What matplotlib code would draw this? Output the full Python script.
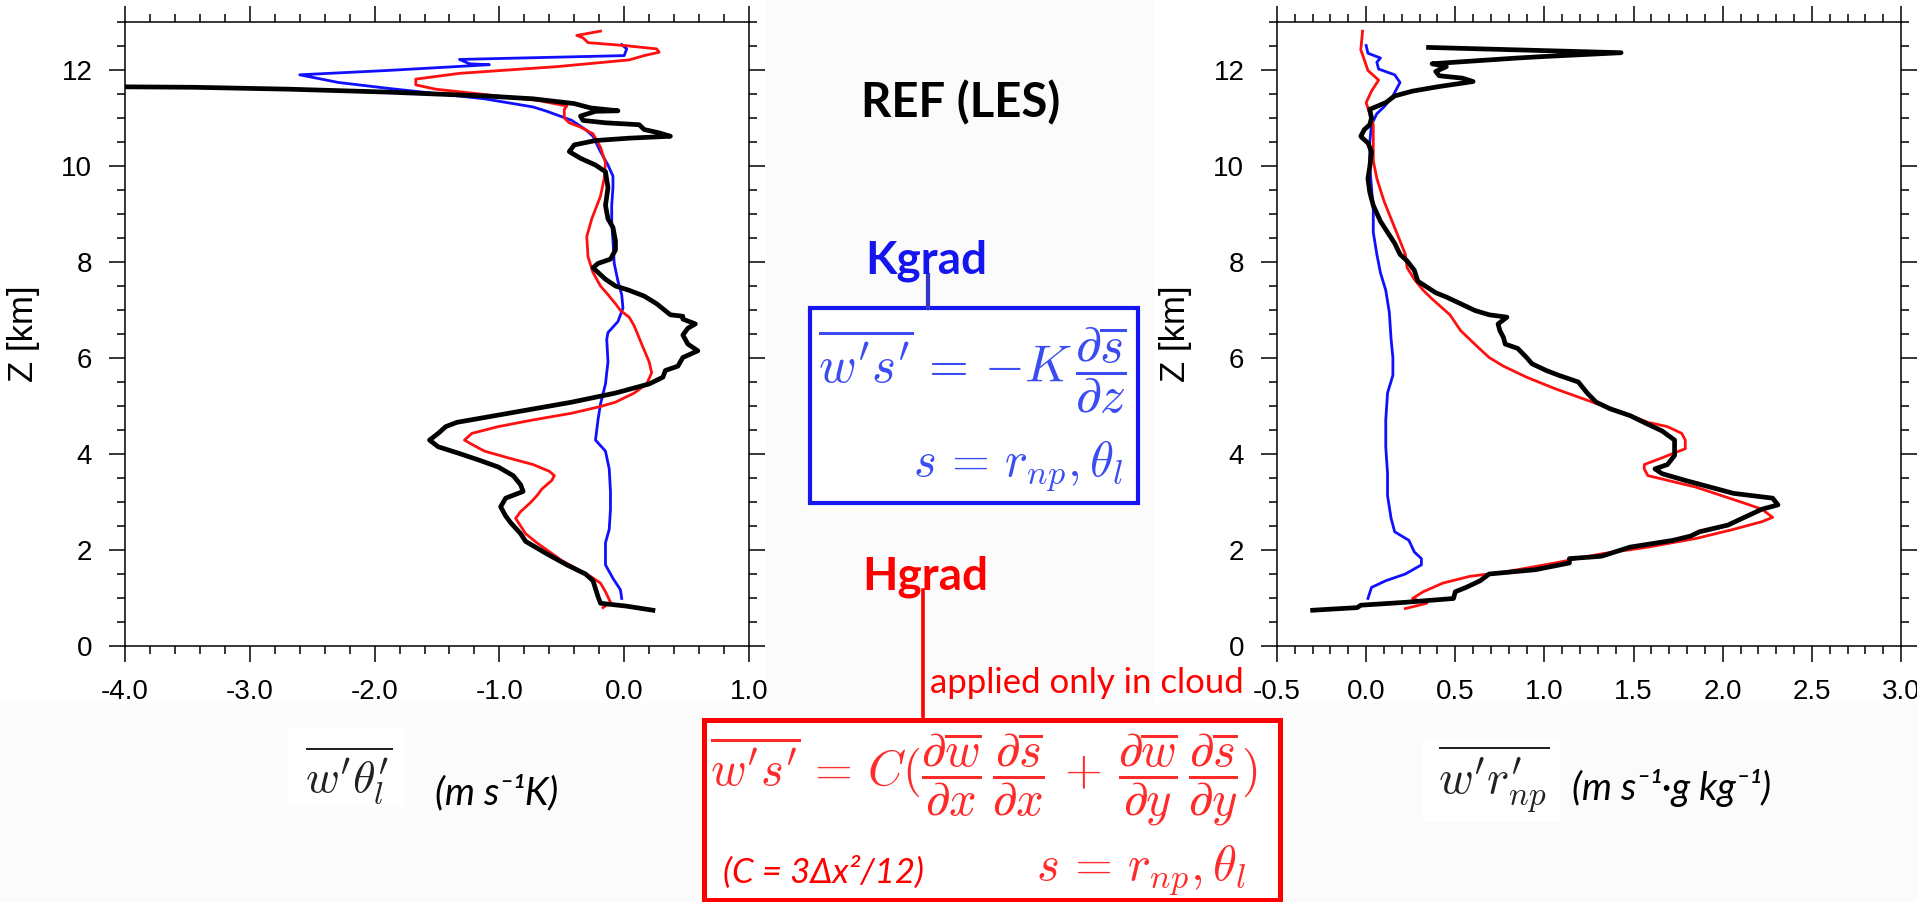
import numpy as np
import matplotlib.pyplot as plt
from matplotlib.ticker import MultipleLocator, FormatStrFormatter
from matplotlib.patches import Rectangle
from matplotlib.lines import Line2D

plt.rcParams["mathtext.fontset"] = "cm"
plt.rcParams["axes.unicode_minus"] = False
plt.rcParams["font.family"] = ["Liberation Sans", "DejaVu Sans"]

# ---- theta_l flux profiles (m s-1 K) vs height (km)
thl_les_z = [0.745, 0.83, 0.89, 1.03, 1.36, 1.5, 1.69, 1.92, 2.18, 2.34, 2.57, 2.71, 2.9, 3.08,
             3.22, 3.36, 3.55, 3.73, 3.87, 4.01, 4.15, 4.29, 4.43, 4.57, 4.66, 4.76, 4.92, 5.08,
             5.27, 5.46, 5.6, 5.74, 5.83, 6.01, 6.15, 6.29, 6.48, 6.62, 6.71, 6.81, 6.87, 6.9,
             7.13, 7.29, 7.41, 7.5, 7.64, 7.88, 7.97, 8.06, 8.25, 8.44, 8.72, 8.9, 9.18, 9.55,
             9.88, 10.02, 10.16, 10.3, 10.44, 10.53, 10.58, 10.62, 10.69, 10.76, 10.86, 10.9,
             10.95, 11.04, 11.14, 11.15, 11.21, 11.3, 11.4, 11.46, 11.54, 11.6, 11.64, 11.65]
thl_les = [0.23, 0.02, -0.19, -0.21, -0.25, -0.31, -0.46, -0.62, -0.79, -0.83, -0.91, -0.95, -0.99,
           -0.95, -0.81, -0.83, -0.89, -1.01, -1.16, -1.32, -1.49, -1.56, -1.49, -1.43, -1.34,
           -1.12, -0.77, -0.42, -0.07, 0.2, 0.31, 0.33, 0.43, 0.47, 0.59, 0.51, 0.47, 0.51, 0.57,
           0.47, 0.47, 0.37, 0.26, 0.16, 0.04, -0.07, -0.15, -0.25, -0.21, -0.11, -0.07, -0.07,
           -0.09, -0.13, -0.15, -0.13, -0.15, -0.23, -0.35, -0.44, -0.4, -0.23, 0.04, 0.37, 0.28,
           0.16, 0.12, -0.15, -0.33, -0.35, -0.23, -0.05, -0.27, -0.4, -0.73, -1.12, -1.9, -2.68,
           -3.45, -4.05]

thl_hgrad_z = [0.8, 0.91, 1.13, 1.31, 1.45, 1.78, 2.15, 2.34, 2.66, 2.8, 2.99, 3.13, 3.27, 3.45,
               3.55, 3.64, 3.78, 3.92, 4.06, 4.2, 4.29, 4.43, 4.57, 4.71, 4.85, 4.99, 5.08, 5.27,
               5.46, 5.69, 5.92, 6.29, 6.67, 6.85, 6.99, 7.13, 7.32, 7.5, 7.78, 8.11, 8.53, 8.9,
               9.37, 9.74, 10.07, 10.39, 10.67, 10.81, 10.9, 11.0, 11.18, 11.25, 11.37, 11.49,
               11.6, 11.69, 11.81, 11.93, 12.07, 12.21, 12.3, 12.37, 12.44, 12.51, 12.57, 12.67,
               12.72, 12.81]
thl_hgrad = [-0.17, -0.11, -0.15, -0.19, -0.27, -0.5, -0.7, -0.79, -0.87, -0.83, -0.75, -0.7, -0.66,
             -0.58, -0.56, -0.6, -0.73, -0.93, -1.12, -1.22, -1.28, -1.22, -1.01, -0.73, -0.42,
             -0.19, -0.07, 0.08, 0.18, 0.22, 0.2, 0.14, 0.08, 0.04, -0.03, -0.07, -0.13, -0.19,
             -0.25, -0.29, -0.3, -0.26, -0.19, -0.16, -0.15, -0.19, -0.25, -0.35, -0.44, -0.48,
             -0.48, -0.46, -0.7, -1.12, -1.51, -1.67, -1.67, -1.32, -0.54, 0.04, 0.16, 0.28, 0.26,
             0.0, -0.29, -0.33, -0.38, -0.19]

thl_kgrad_z = [0.99, 1.17, 1.41, 1.69, 2.15, 2.43, 2.85, 3.22, 3.69, 4.06, 4.29, 4.71, 5.04, 5.46,
               5.92, 6.39, 6.53, 6.76, 7.04, 7.32, 7.6, 7.97, 8.44, 8.81, 9.18, 9.55, 9.79, 10.02,
               10.3, 10.62, 10.76, 10.95, 11.14, 11.23, 11.4, 11.51, 11.62, 11.74, 11.9, 11.99,
               12.11, 12.13, 12.22, 12.3, 12.44, 12.53]
thl_kgrad = [-0.02, -0.03, -0.09, -0.15, -0.15, -0.12, -0.11, -0.11, -0.12, -0.15, -0.23, -0.21,
             -0.19, -0.15, -0.13, -0.14, -0.13, -0.05, -0.01, -0.02, -0.05, -0.08, -0.09, -0.1,
             -0.1, -0.09, -0.09, -0.13, -0.19, -0.25, -0.31, -0.42, -0.62, -0.73, -1.12, -1.51,
             -1.9, -2.29, -2.6, -1.9, -1.08, -1.24, -1.32, 0.0, 0.02, -0.02]

# ---- r_np flux profiles (m s-1 g kg-1) vs height (km)
rnp_les_z = [0.745, 0.8, 0.85, 0.91, 0.99, 1.13, 1.22, 1.36, 1.5, 1.59, 1.73, 1.82, 1.87, 2.06,
             2.2, 2.29, 2.38, 2.52, 2.66, 2.85, 2.94, 3.08, 3.18, 3.31, 3.45, 3.59, 3.69, 3.78,
             3.97, 4.29, 4.48, 4.62, 4.8, 4.94, 5.08, 5.27, 5.5, 5.64, 5.74, 5.88, 6.01, 6.2,
             6.29, 6.43, 6.57, 6.71, 6.85, 6.9, 6.99, 7.13, 7.27, 7.36, 7.6, 7.83, 8.02, 8.16,
             8.39, 8.62, 8.85, 9.18, 9.46, 9.74, 9.97, 10.3, 10.48, 10.58, 10.62, 10.76, 10.86,
             11.0, 11.18, 11.32, 11.46, 11.56, 11.65, 11.76, 11.83, 11.88, 11.97, 12.07, 12.13,
             12.25, 12.28, 12.36, 12.47]
rnp_les = [-0.3, -0.05, -0.03, 0.22, 0.49, 0.5, 0.56, 0.64, 0.69, 0.95, 1.14, 1.14, 1.32, 1.48,
           1.72, 1.82, 1.87, 2.03, 2.11, 2.22, 2.31, 2.28, 2.06, 1.93, 1.79, 1.66, 1.62, 1.69,
           1.73, 1.73, 1.66, 1.58, 1.48, 1.37, 1.29, 1.24, 1.19, 1.08, 1.01, 0.93, 0.9, 0.85,
           0.78, 0.77, 0.75, 0.74, 0.79, 0.69, 0.61, 0.53, 0.45, 0.39, 0.29, 0.27, 0.23, 0.19,
           0.16, 0.12, 0.08, 0.04, 0.02, 0.01, 0.02, 0.03, 0.01, -0.02, -0.03, -0.01, 0.02, 0.03,
           0.02, 0.11, 0.16, 0.26, 0.4, 0.6, 0.54, 0.41, 0.39, 0.45, 0.37, 0.85, 0.99, 1.43, 0.35]

rnp_hgrad_z = [0.78, 0.89, 0.99, 1.13, 1.31, 1.45, 1.55, 1.73, 1.92, 2.06, 2.24, 2.43, 2.59,
               2.68, 2.85, 2.99, 3.31, 3.55, 3.69, 3.78, 3.92, 4.01, 4.11, 4.29, 4.43, 4.57,
               4.66, 4.85, 5.08, 5.36, 5.6, 5.83, 6.01, 6.25, 6.57, 6.9, 7.23, 7.41, 7.64, 7.88,
               8.16, 8.53, 8.9, 9.27, 9.74, 10.11, 10.48, 10.86, 11.09, 11.32, 11.56, 11.79,
               11.99, 12.21, 12.42, 12.81]
rnp_hgrad = [0.22, 0.34, 0.26, 0.32, 0.43, 0.58, 0.79, 1.06, 1.32, 1.58, 1.85, 2.06, 2.22, 2.28,
             2.22, 2.11, 1.85, 1.58, 1.56, 1.56, 1.66, 1.72, 1.79, 1.79, 1.77, 1.69, 1.58, 1.45,
             1.27, 1.06, 0.9, 0.77, 0.69, 0.62, 0.53, 0.47, 0.37, 0.32, 0.27, 0.23, 0.22, 0.18,
             0.14, 0.1, 0.06, 0.04, 0.04, 0.04, 0.02, 0.0, 0.03, 0.07, 0.01, -0.01, -0.03, -0.02]

rnp_kgrad_z = [0.99, 1.22, 1.36, 1.5, 1.69, 1.82, 1.96, 2.2, 2.38, 2.66, 3.13, 3.59, 4.15, 4.71,
               5.27, 5.64, 6.01, 6.39, 6.95, 7.41, 7.78, 8.16, 8.62, 9.09, 9.55, 10.02, 10.48,
               10.86, 11.09, 11.23, 11.46, 11.74, 11.9, 12.02, 12.16, 12.25, 12.35, 12.51]
rnp_kgrad = [0.01, 0.03, 0.11, 0.22, 0.31, 0.31, 0.27, 0.24, 0.16, 0.14, 0.12, 0.12, 0.11, 0.11,
             0.12, 0.15, 0.15, 0.14, 0.13, 0.11, 0.08, 0.06, 0.04, 0.04, 0.03, 0.02, 0.02, 0.03,
             0.06, 0.1, 0.15, 0.19, 0.16, 0.07, 0.06, 0.08, 0.01, 0.0]

W, H = 1917, 902
fig = plt.figure(figsize=(W / 100, H / 100), dpi=100, facecolor="#fbfbfb")


def fx(x):
    return x / W


def fy(y):
    return 1 - y / H


def box(x0, y0, x1, y1, **kw):
    fig.patches.append(Rectangle((fx(x0), fy(y1)), fx(x1 - x0), (y1 - y0) / H,
                                 transform=fig.transFigure, **kw))


def vline(x, y0, y1, **kw):
    fig.lines.append(Line2D([fx(x), fx(x)], [fy(y0), fy(y1)], transform=fig.transFigure, **kw))


# white backing of the two plot panels
box(0, 0, 767, 703, facecolor="white", edgecolor="none", zorder=-2)
box(1155, 0, W, 703, facecolor="white", edgecolor="none", zorder=-2)


def profile_axes(left, xlim, xmajor, xminor):
    ax = fig.add_axes([fx(left), fy(646), fx(624), 624 / H])
    ax.set_xlim(*xlim)
    ax.set_ylim(0, 13)
    ax.xaxis.set_major_locator(MultipleLocator(xmajor))
    ax.xaxis.set_minor_locator(MultipleLocator(xminor))
    ax.xaxis.set_major_formatter(FormatStrFormatter("%.1f"))
    ax.yaxis.set_major_locator(MultipleLocator(2))
    ax.yaxis.set_minor_locator(MultipleLocator(0.5))
    ax.tick_params(which="both", direction="out", top=True, right=True, width=1.1,
                   labelsize=20, pad=12)
    ax.tick_params(which="major", length=11.5)
    ax.tick_params(which="minor", length=5.8)
    for s in ax.spines.values():
        s.set_linewidth(1.1)
    return ax


ax1 = profile_axes(125, (-4, 1), 1.0, 0.2)
ax1.plot(thl_kgrad, thl_kgrad_z, color="#1010ff", lw=2.0)
ax1.plot(thl_hgrad, thl_hgrad_z, color="#ff1010", lw=2.0)
ax1.plot(thl_les, thl_les_z, color="black", lw=3.4)

ax2 = profile_axes(1277, (-0.5, 3.0), 0.5, 0.1)
ax2.plot(rnp_kgrad, rnp_kgrad_z, color="#1010ff", lw=2.0)
ax2.plot(rnp_hgrad, rnp_hgrad_z, color="#ff1010", lw=2.0)
ax2.plot(rnp_les, rnp_les_z, color="black", lw=3.4)

for xc in (23, 1175):
    fig.text(fx(xc), fy(334), "Z [km]", rotation=90, ha="center", va="center", fontsize=25)

# x-axis labels
box(288, 728, 404, 807, facecolor="white", edgecolor="none", zorder=-1)
fig.text(fx(349), fy(775), r"$\overline{w'\theta_l'}$", ha="center", va="center",
         fontsize=33, color="#222222")
fig.text(fx(435), fy(793), "(m s\u207b\u00b9K)", ha="left", va="center", fontsize=27.5,
         style="italic", family=["Lato", "DejaVu Sans"])

box(1423, 740, 1560, 822, facecolor="white", edgecolor="none", zorder=-1)
fig.text(fx(1494), fy(780), r"$\overline{w'r_{np}'}$", ha="center", va="center",
         fontsize=34, color="#222222")
fig.text(fx(1572), fy(788), "(m s\u207b\u00b9\u00b7g kg\u207b\u00b9)", ha="left", va="center",
         fontsize=27.5, style="italic", family=["Lato", "DejaVu Sans"])

# centre annotations
fig.text(fx(961), fy(117), "REF (LES)", ha="center", va="baseline", fontsize=34,
         weight="bold", family=["Lato", "DejaVu Sans"])

blue = "#1515f0"
fig.text(fx(926), fy(273), "Kgrad", ha="center", va="baseline", fontsize=33,
         weight="bold", color=blue, family=["Lato", "DejaVu Sans"])
vline(928, 275, 308, color="#3535c8", lw=3.0)
box(810, 308, 1138, 503, facecolor="white", edgecolor=blue, lw=3.0, zorder=1)
fig.text(fx(972), fy(370),
         r"$\overline{w's'}\,=\,{-}K\,\dfrac{\partial\overline{s}}{\partial z}$",
         ha="center", va="center", fontsize=37, color="#3a4cf2", zorder=2)
fig.text(fx(1123), fy(466), r"$s\,=\,r_{np},\theta_l$", ha="right", va="center",
         fontsize=35, color="#3a4cf2", zorder=2)

red = "#ff0000"
fig.text(fx(925), fy(589), "Hgrad", ha="center", va="baseline", fontsize=33,
         weight="bold", color=red, family=["Lato", "DejaVu Sans"])
vline(923, 590, 720, color=red, lw=2.6)
fig.text(fx(930), fy(693), "applied only in cloud", ha="left", va="baseline", fontsize=25,
         color=red, family=["Lato", "DejaVu Sans"])
box(704, 720, 1280, 900, facecolor="white", edgecolor=red, lw=3.6, zorder=1)
fig.text(fx(984), fy(779),
         r"$\overline{w's'}\,=\,C(\dfrac{\partial\overline{w}}{\partial x}\,"
         r"\dfrac{\partial\overline{s}}{\partial x}\,+\,"
         r"\dfrac{\partial\overline{w}}{\partial y}\,\dfrac{\partial\overline{s}}{\partial y})$",
         ha="center", va="center", fontsize=35, color="#ff2a2a", zorder=2)
fig.text(fx(723), fy(872), "(C = 3\u0394x\u00b2/12)", ha="left", va="center", fontsize=25,
         style="italic", color=red, family=["Lato", "DejaVu Sans"], zorder=2)
fig.text(fx(1246), fy(870), r"$s\,=\,r_{np},\theta_l$", ha="right", va="center",
         fontsize=35, color="#ff2a2a", zorder=2)

fig.savefig("out.png", dpi=100, facecolor=fig.get_facecolor())
